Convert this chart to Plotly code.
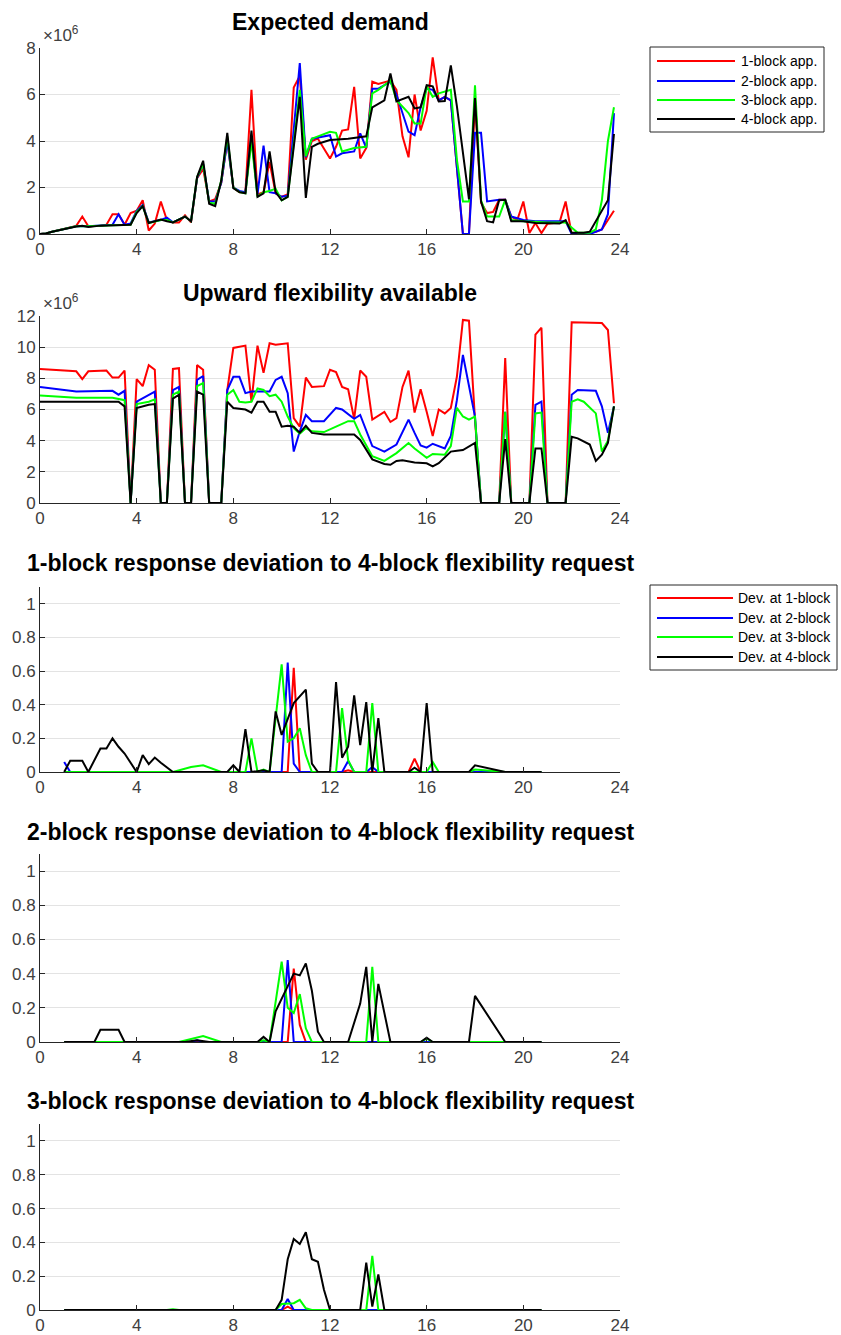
import plotly.graph_objects as go

W, H = 841, 1335

# ---------------- data ----------------
SERIES_COLORS = ["#ff0000", "#0000ff", "#00ff00", "#000000"]
LEGEND1_LABELS = ["1-block app.", "2-block app.", "3-block app.", "4-block app."]
LEGEND2_LABELS = ["Dev. at 1-block", "Dev. at 2-block", "Dev. at 3-block", "Dev. at 4-block"]
TITLES = ["Expected demand", "Upward flexibility available",
          "1-block response deviation to 4-block flexibility request",
          "2-block response deviation to 4-block flexibility request",
          "3-block response deviation to 4-block flexibility request"]
X_TICKS = [0, 4, 8, 12, 16, 20, 24]

# Panel 1: expected demand (x 1e6)
dem1_h = [0, 0.25, 0.5, 1.0, 1.5, 1.75, 2.0, 2.5, 2.75, 3.0, 3.25, 3.5, 3.75, 4.0, 4.25, 4.5, 4.75, 5.0, 5.25, 5.5, 5.75, 6.0, 6.25, 6.5, 6.75, 7.0, 7.25, 7.5, 7.75, 8.0, 8.25, 8.5, 8.75, 9.0, 9.25, 9.5, 9.75, 10.0, 10.25, 10.5, 10.75, 11.0, 11.25, 11.5, 12.0, 12.25, 12.5, 12.75, 13.0, 13.25, 13.5, 13.75, 14.0, 14.5, 14.75, 15.0, 15.25, 15.5, 15.75, 16.0, 16.25, 16.5, 16.75, 17.0, 17.5, 17.75, 18.0, 18.25, 18.5, 18.75, 19.0, 19.25, 19.5, 19.75, 20.0, 20.25, 20.5, 20.75, 21.0, 21.5, 21.75, 22.0, 22.5, 23.0, 23.25, 23.5, 23.75]
dem1_v = [0, 0.02, 0.1, 0.22, 0.35, 0.75, 0.33, 0.36, 0.4, 0.85, 0.85, 0.4, 0.9, 1.0, 1.45, 0.15, 0.45, 1.4, 0.6, 0.5, 0.5, 0.8, 0.5, 2.4, 2.8, 1.4, 1.5, 2.2, 4.0, 2.0, 1.8, 1.8, 6.2, 1.7, 1.8, 3.1, 1.75, 1.6, 1.7, 6.3, 6.8, 3.2, 4.0, 4.1, 3.25, 3.75, 4.45, 4.5, 6.33, 3.25, 3.7, 6.55, 6.45, 6.6, 6.2, 4.2, 3.3, 6.0, 4.45, 5.3, 7.6, 5.75, 5.9, 5.75, 0, 0, 5.75, 1.35, 0.9, 0.95, 1.47, 1.47, 0.75, 0.6, 1.4, 0.04, 0.47, 0.04, 0.44, 0.5, 1.4, 0.0, 0.0, 0.1, 0.2, 0.6, 1.0]
dem2_h = [0, 0.25, 0.5, 1.0, 1.5, 2.0, 2.5, 3.0, 3.25, 3.5, 3.75, 4.0, 4.25, 4.5, 5.0, 5.25, 5.5, 6.0, 6.25, 6.5, 6.75, 7.0, 7.25, 7.5, 7.75, 8.0, 8.25, 8.5, 8.75, 9.0, 9.25, 9.5, 9.75, 10.0, 10.25, 10.75, 11.0, 11.25, 12.0, 12.25, 12.5, 13.0, 13.25, 13.5, 13.75, 14.0, 14.5, 14.75, 15.25, 15.5, 15.75, 16.0, 16.25, 16.5, 16.75, 17.0, 17.5, 17.75, 18.0, 18.25, 18.5, 19.0, 19.25, 19.5, 20.0, 20.5, 21.75, 22.0, 22.75, 23.25, 23.5, 23.75]
dem2_v = [0, 0.02, 0.1, 0.22, 0.33, 0.33, 0.36, 0.4, 0.85, 0.4, 0.45, 1.0, 1.25, 0.5, 0.6, 0.7, 0.5, 0.75, 0.55, 2.4, 3.0, 1.4, 1.4, 2.2, 4.0, 2.0, 1.85, 1.8, 4.2, 1.7, 3.8, 1.8, 1.75, 1.6, 1.65, 7.35, 3.3, 4.1, 4.25, 3.33, 3.47, 3.55, 4.33, 3.7, 6.25, 6.25, 6.55, 6.0, 4.4, 4.25, 5.45, 6.25, 6.2, 5.75, 5.9, 5.75, 0, 0, 4.35, 4.35, 1.4, 1.47, 1.47, 0.75, 0.6, 0.55, 0.55, 0.0, 0.0, 0.2, 0.85, 5.2]
dem3_h = [0, 0.25, 0.5, 1.0, 1.5, 2.0, 2.5, 3.0, 3.75, 4.0, 4.25, 4.5, 5.0, 5.25, 5.5, 6.0, 6.25, 6.5, 6.75, 7.0, 7.25, 7.5, 7.75, 8.0, 8.25, 8.5, 8.75, 9.0, 9.25, 9.5, 9.75, 10.0, 10.25, 10.75, 11.0, 11.25, 12.0, 12.25, 12.5, 13.0, 13.5, 13.75, 14.0, 14.5, 14.75, 15.25, 15.5, 15.75, 16.0, 16.25, 16.5, 17.0, 17.25, 17.5, 17.75, 18.0, 18.25, 18.5, 19.0, 19.25, 19.5, 20.0, 21.0, 21.75, 22.25, 22.75, 23.0, 23.25, 23.5, 23.75]
dem3_v = [0, 0.02, 0.1, 0.22, 0.33, 0.33, 0.36, 0.38, 0.4, 0.95, 1.2, 0.47, 0.6, 0.6, 0.5, 0.75, 0.55, 2.45, 3.0, 1.35, 1.3, 2.3, 4.2, 2.0, 1.8, 1.75, 4.0, 1.6, 1.8, 1.85, 1.95, 1.45, 1.6, 6.2, 3.35, 4.1, 4.4, 4.35, 3.55, 3.7, 3.75, 6.05, 6.2, 6.6, 5.75, 5.2, 4.75, 4.75, 6.35, 5.9, 6.05, 6.2, 3.2, 1.4, 1.4, 6.4, 1.45, 0.75, 0.75, 1.47, 0.6, 0.55, 0.5, 0.5, 0.05, 0.05, 0.2, 1.45, 4.0, 5.45]
dem4_h = [0, 0.25, 0.5, 1.0, 1.5, 1.75, 2.0, 2.5, 3.0, 3.75, 4.0, 4.25, 4.5, 5.0, 5.25, 5.5, 6.0, 6.25, 6.5, 6.75, 7.0, 7.25, 7.5, 7.75, 8.0, 8.25, 8.5, 8.75, 9.0, 9.25, 9.5, 9.75, 10.0, 10.25, 10.75, 11.0, 11.25, 11.5, 12.0, 12.75, 13.5, 13.75, 14.25, 14.5, 14.75, 15.25, 15.5, 15.75, 16.0, 16.25, 16.5, 16.75, 17.0, 17.25, 17.75, 18.0, 18.25, 18.5, 18.75, 19.0, 19.25, 19.5, 20.0, 20.5, 21.5, 21.75, 22.0, 22.5, 22.75, 23.0, 23.5, 23.75]
dem4_v = [0, 0.02, 0.1, 0.22, 0.32, 0.35, 0.3, 0.36, 0.38, 0.4, 0.9, 1.2, 0.47, 0.62, 0.55, 0.5, 0.75, 0.55, 2.45, 3.15, 1.3, 1.2, 2.3, 4.35, 1.97, 1.8, 1.75, 4.45, 1.6, 1.75, 3.55, 1.8, 1.45, 1.6, 5.9, 1.55, 3.75, 3.88, 4.04, 4.1, 4.2, 5.45, 5.75, 6.9, 5.7, 5.9, 5.4, 5.45, 6.4, 6.35, 5.7, 5.72, 7.25, 5.5, 1.5, 5.85, 1.4, 0.55, 0.5, 1.45, 1.47, 0.55, 0.55, 0.47, 0.45, 0.6, 0.05, 0.05, 0.1, 0.55, 1.45, 4.3]

# Panel 2: upward flexibility available (x 1e6)
flx1_h = [0, 1.5, 1.75, 2.0, 2.75, 3.0, 3.25, 3.5, 3.75, 4.0, 4.25, 4.5, 4.75, 5.0, 5.25, 5.5, 5.75, 6.0, 6.25, 6.5, 6.75, 7.0, 7.5, 7.75, 8.0, 8.5, 8.75, 9.0, 9.25, 9.5, 9.75, 10.0, 10.25, 10.5, 10.75, 11.0, 11.25, 11.75, 12.0, 12.25, 12.5, 12.75, 13.0, 13.25, 13.5, 13.75, 14.25, 14.5, 14.75, 15.0, 15.25, 15.5, 15.75, 16.0, 16.25, 16.5, 16.75, 17.0, 17.25, 17.5, 17.75, 18.0, 18.25, 19.0, 19.25, 19.5, 20.25, 20.5, 20.75, 21.0, 21.75, 22.0, 23.25, 23.5, 23.75]
flx1_v = [8.6, 8.45, 7.95, 8.45, 8.5, 8.05, 8.05, 8.5, 0, 7.95, 7.5, 8.85, 8.55, 0, 0, 8.6, 8.65, 0, 0, 8.85, 8.55, 0, 0, 7.25, 9.95, 10.1, 6.5, 10.1, 8.35, 10.25, 10.15, 10.2, 10.25, 5.45, 4.9, 8.05, 7.45, 7.5, 8.55, 8.4, 7.45, 7.3, 5.4, 8.5, 8.1, 5.35, 5.85, 5.2, 5.45, 7.45, 8.5, 5.8, 7.3, 5.85, 4.3, 6.0, 5.75, 6.1, 8.1, 11.75, 11.7, 5.35, 0, 0, 9.3, 0, 0, 10.8, 11.25, 0, 0, 11.6, 11.55, 11.1, 6.4]
flx2_h = [0, 1.5, 3.0, 3.25, 3.5, 3.75, 4.0, 4.5, 4.75, 5.0, 5.25, 5.5, 5.75, 6.0, 6.25, 6.5, 6.75, 7.0, 7.5, 7.75, 8.0, 8.25, 8.5, 8.75, 9.25, 9.5, 9.75, 10.0, 10.25, 10.5, 10.75, 11.0, 11.25, 11.75, 12.25, 12.5, 13.0, 13.25, 13.75, 14.25, 14.75, 15.25, 15.5, 15.75, 16.0, 16.25, 16.75, 17.0, 17.25, 17.5, 18.0, 18.25, 19.0, 19.25, 19.5, 20.25, 20.5, 20.75, 21.0, 21.75, 22.0, 22.25, 23.0, 23.25, 23.5, 23.75]
flx2_v = [7.45, 7.15, 7.2, 6.95, 7.2, 0, 6.5, 6.95, 7.15, 0, 0, 7.25, 7.45, 0, 0, 7.9, 8.15, 0, 0, 7.25, 8.1, 8.1, 7.05, 7.15, 7.15, 7.15, 7.9, 8.1, 7.05, 3.3, 4.6, 5.65, 5.25, 5.25, 6.1, 6.0, 5.4, 5.65, 3.65, 3.3, 3.75, 5.35, 4.5, 3.7, 3.55, 3.8, 3.5, 4.3, 6.6, 9.5, 5.55, 0, 0, 5.85, 0, 0, 6.3, 6.5, 0, 0, 6.95, 7.25, 7.2, 6.2, 4.5, 6.2]
flx3_h = [0, 1.5, 3.0, 3.5, 3.75, 4.0, 4.5, 4.75, 5.0, 5.25, 5.5, 5.75, 6.0, 6.25, 6.5, 6.75, 7.0, 7.5, 7.75, 8.0, 8.25, 8.5, 8.75, 9.0, 9.25, 9.5, 9.75, 10.0, 10.25, 10.5, 10.75, 11.0, 11.25, 11.75, 12.25, 12.75, 13.0, 13.25, 13.75, 14.25, 14.75, 15.25, 15.5, 16.0, 16.25, 16.75, 17.0, 17.25, 17.5, 17.75, 18.0, 18.25, 19.0, 19.25, 19.5, 20.25, 20.5, 20.75, 21.0, 21.75, 22.0, 22.25, 22.5, 23.0, 23.25, 23.5, 23.75]
flx3_v = [6.9, 6.75, 6.75, 6.6, 0, 6.35, 6.5, 6.65, 0, 0, 6.95, 7.15, 0, 0, 7.5, 7.7, 0, 0, 6.95, 7.25, 6.5, 6.45, 6.5, 7.35, 7.25, 6.85, 6.95, 6.5, 5.55, 4.8, 4.45, 4.8, 4.6, 4.55, 4.9, 5.25, 5.25, 4.4, 3.0, 2.7, 3.2, 3.85, 3.5, 2.9, 3.15, 3.1, 3.65, 6.1, 5.55, 5.35, 5.55, 0, 0, 5.85, 0, 0, 5.75, 5.8, 0, 0, 6.5, 6.65, 6.5, 5.75, 3.3, 4.0, 6.2]
flx4_h = [0, 3.25, 3.5, 3.75, 4.0, 4.5, 4.75, 5.0, 5.25, 5.5, 5.75, 6.0, 6.25, 6.5, 6.75, 7.0, 7.5, 7.75, 8.0, 8.5, 8.75, 9.0, 9.25, 9.5, 9.75, 10.0, 10.25, 10.5, 10.75, 11.0, 11.25, 11.75, 13.0, 13.25, 13.75, 14.25, 14.5, 14.75, 15.0, 15.25, 15.5, 16.0, 16.25, 16.5, 17.0, 17.25, 17.5, 18.0, 18.25, 19.0, 19.25, 19.5, 20.25, 20.5, 20.75, 21.0, 21.75, 22.0, 22.25, 22.75, 23.0, 23.25, 23.5, 23.75]
flx4_v = [6.5, 6.5, 6.2, 0, 6.1, 6.3, 6.35, 0, 0, 6.7, 6.95, 0, 0, 7.15, 6.95, 0, 0, 6.5, 6.1, 6.0, 5.8, 6.5, 6.5, 5.85, 5.85, 4.9, 4.95, 4.9, 4.5, 4.95, 4.5, 4.4, 4.4, 4.05, 2.8, 2.5, 2.45, 2.7, 2.75, 2.65, 2.6, 2.55, 2.35, 2.55, 3.3, 3.35, 3.4, 3.85, 0, 0, 4.1, 0, 0, 3.5, 3.5, 0, 0, 4.25, 4.15, 3.75, 2.7, 3.1, 3.85, 6.2]

# Panel 3: 1-block response deviation
p3_1_h = [1, 10.25, 10.5, 10.75, 12.5, 12.75, 13.0, 15.25, 15.5, 15.75, 20.75]
p3_1_v = [0, 0, 0.62, 0, 0, 0.01, 0, 0, 0.08, 0, 0]
p3_2_h = [1, 1.25, 10.0, 10.25, 10.5, 10.75, 12.5, 12.75, 13.0, 13.5, 13.75, 14.0, 20.75]
p3_2_v = [0.06, 0, 0, 0.65, 0.05, 0, 0, 0.065, 0, 0, 0.03, 0, 0]
p3_3_h = [1, 5.5, 6.25, 6.75, 7.5, 8.5, 8.75, 9.0, 9.25, 9.5, 10.0, 10.25, 10.5, 10.75, 11.0, 11.25, 12.25, 12.5, 12.75, 13.0, 13.5, 13.75, 14.0, 16.0, 16.25, 16.5, 17.75, 18.0, 19.25, 20.75]
p3_3_v = [0, 0, 0.03, 0.04, 0, 0, 0.2, 0, 0.015, 0, 0.64, 0.18, 0.2, 0.26, 0.1, 0, 0, 0.38, 0.07, 0, 0, 0.41, 0, 0, 0.06, 0, 0, 0.015, 0, 0]
p3_4_h = [1, 1.25, 1.75, 2.0, 2.5, 2.75, 3.0, 3.25, 3.5, 4.0, 4.25, 4.5, 4.75, 5.0, 5.5, 7.75, 8.0, 8.25, 8.5, 8.75, 9.25, 9.5, 9.75, 10.0, 10.5, 11.0, 11.25, 11.5, 12.0, 12.25, 12.5, 12.75, 13.0, 13.25, 13.5, 13.75, 14.0, 14.25, 15.25, 15.5, 15.75, 16.0, 16.25, 17.75, 18.0, 19.25, 20.75]
p3_4_v = [0, 0.067, 0.067, 0, 0.14, 0.14, 0.2, 0.15, 0.11, 0, 0.1, 0.047, 0.086, 0.055, 0, 0, 0.04, 0, 0.255, 0, 0.01, 0, 0.36, 0.22, 0.41, 0.49, 0.05, 0, 0, 0.535, 0.085, 0.15, 0.455, 0.16, 0.415, 0, 0.32, 0, 0, 0.025, 0, 0.41, 0, 0, 0.04, 0, 0]

# Panel 4: 2-block response deviation
p4_1_h = [1, 10.25, 10.5, 10.75, 11.0, 20.75]
p4_1_v = [0, 0, 0.43, 0.1, 0, 0]
p4_2_h = [1, 6.25, 6.5, 6.75, 10.0, 10.25, 10.5, 20.75]
p4_2_v = [0, 0, 0.01, 0, 0, 0.48, 0, 0]
p4_3_h = [1, 5.75, 6.75, 7.5, 9.0, 9.25, 9.5, 10.0, 10.25, 10.5, 10.75, 11.0, 11.25, 13.5, 13.75, 14.0, 15.75, 16.0, 16.25, 20.75]
p4_3_v = [0, 0, 0.035, 0, 0, 0.01, 0, 0.47, 0.2, 0.17, 0.28, 0.08, 0, 0, 0.44, 0, 0, 0.02, 0, 0]
p4_4_h = [1, 2.25, 2.5, 3.25, 3.5, 6.0, 6.5, 7.0, 9.0, 9.25, 9.5, 9.75, 10.5, 10.75, 11.0, 11.25, 11.5, 11.75, 12.75, 13.25, 13.5, 13.75, 14.0, 14.5, 15.75, 16.0, 16.25, 17.75, 18.0, 19.25, 20.75]
p4_4_v = [0, 0, 0.072, 0.072, 0, 0, 0.01, 0, 0, 0.03, 0, 0.18, 0.4, 0.39, 0.46, 0.3, 0.06, 0, 0, 0.225, 0.44, 0, 0.34, 0, 0, 0.025, 0, 0, 0.27, 0, 0]

# Panel 5: 3-block response deviation
p5_1_h = [1, 10.0, 10.25, 10.5, 20.75]
p5_1_v = [0, 0, 0.02, 0, 0]
p5_2_h = [1, 10.0, 10.25, 10.5, 20.75]
p5_2_v = [0, 0, 0.065, 0, 0]
p5_3_h = [1, 5.25, 5.5, 5.75, 9.75, 10.0, 10.5, 10.75, 11.0, 11.25, 13.5, 13.75, 14.0, 20.75]
p5_3_v = [0, 0, 0.005, 0, 0, 0.035, 0.04, 0.06, 0.01, 0, 0, 0.32, 0, 0]
p5_4_h = [1, 9.75, 10.0, 10.25, 10.5, 10.75, 11.0, 11.25, 11.5, 11.75, 12.0, 13.25, 13.5, 13.75, 14.0, 14.25, 20.75]
p5_4_v = [0, 0, 0.06, 0.3, 0.42, 0.39, 0.46, 0.3, 0.285, 0.12, 0, 0, 0.28, 0.02, 0.21, 0, 0]

PANELS = [
    [(dem1_h, dem1_v), (dem2_h, dem2_v), (dem3_h, dem3_v), (dem4_h, dem4_v)],
    [(flx1_h, flx1_v), (flx2_h, flx2_v), (flx3_h, flx3_v), (flx4_h, flx4_v)],
    [(p3_1_h, p3_1_v), (p3_2_h, p3_2_v), (p3_3_h, p3_3_v), (p3_4_h, p3_4_v)],
    [(p4_1_h, p4_1_v), (p4_2_h, p4_2_v), (p4_3_h, p4_3_v), (p4_4_h, p4_4_v)],
    [(p5_1_h, p5_1_v), (p5_2_h, p5_2_v), (p5_3_h, p5_3_v), (p5_4_h, p5_4_v)],
]
Y_RANGES = [[0, 8], [0, 12], [0, 1.1], [0, 1.1], [0, 1.1]]
Y_TICKS = [[0, 2, 4, 6, 8], [0, 2, 4, 6, 8, 10, 12],
           [0, 0.2, 0.4, 0.6, 0.8, 1], [0, 0.2, 0.4, 0.6, 0.8, 1], [0, 0.2, 0.4, 0.6, 0.8, 1]]

# ---------------- layout (pixels) ----------------
PLOT_L, PLOT_R = 40, 620
PANEL_PX = [(48, 234), (316, 503), (587, 772), (854, 1042), (1124, 1310)]  # top, bottom
TITLE_Y = [22, 293, 563, 832, 1101]
EXP_Y = [34, 302]

FONT = "Liberation Sans, Arial, sans-serif"


def px(x):
    return x / W


def py(y):
    return 1 - y / H


fig = go.Figure()
layout = dict(width=W, height=H, margin=dict(l=0, r=0, t=0, b=0, autoexpand=False),
              paper_bgcolor="white", plot_bgcolor="white", showlegend=False)
annotations, shapes = [], []

for i, series in enumerate(PANELS):
    n = "" if i == 0 else str(i + 1)
    for k, (hx, vy) in enumerate(series):
        fig.add_trace(go.Scatter(x=hx, y=vy, mode="lines", xaxis="x" + n, yaxis="y" + n,
                                 line=dict(color=SERIES_COLORS[k], width=2), hoverinfo="skip"))
    top, bot = PANEL_PX[i]
    layout["xaxis" + n] = dict(domain=[px(PLOT_L), px(PLOT_R)], anchor="y" + n, range=[0, 24],
                               tickvals=X_TICKS, ticks="inside", ticklen=5, tickcolor="#262626",
                               showline=True, linecolor="#262626", linewidth=1, showgrid=False,
                               zeroline=False, automargin=False,
                               tickfont=dict(family=FONT, size=17, color="#404040"))
    layout["yaxis" + n] = dict(domain=[py(bot), py(top)], anchor="x" + n, range=Y_RANGES[i],
                               tickvals=Y_TICKS[i], ticks="inside", ticklen=5, tickcolor="#262626",
                               showline=True, linecolor="#262626", linewidth=1, showgrid=True,
                               gridcolor="#e3e3e3", gridwidth=1, zeroline=False, automargin=False,
                               tickfont=dict(family=FONT, size=17, color="#404040"))
    annotations.append(dict(text="<b>" + TITLES[i] + "</b>", x=px(330), y=py(TITLE_Y[i]),
                            xref="paper", yref="paper", xanchor="center", yanchor="middle",
                            showarrow=False, font=dict(family=FONT, size=23, color="#000000")))

for y in EXP_Y:
    annotations.append(dict(text="×10<sup>6</sup>", x=px(41), y=py(y), xref="paper", yref="paper",
                            xanchor="left", yanchor="middle", showarrow=False,
                            font=dict(family=FONT, size=17, color="#404040")))


def add_legend(labels, box, rows, line_x, text_x):
    x0, y0, x1, y1 = box
    shapes.append(dict(type="rect", xref="paper", yref="paper", x0=px(x0), x1=px(x1),
                       y0=py(y1), y1=py(y0), line=dict(color="#262626", width=1),
                       fillcolor="white", layer="above"))
    for k, lab in enumerate(labels):
        shapes.append(dict(type="line", xref="paper", yref="paper", x0=px(line_x[0]), x1=px(line_x[1]),
                           y0=py(rows[k]), y1=py(rows[k]), line=dict(color=SERIES_COLORS[k], width=2)))
        annotations.append(dict(text=lab, x=px(text_x), y=py(rows[k]), xref="paper", yref="paper",
                                xanchor="left", yanchor="middle", showarrow=False,
                                font=dict(family=FONT, size=14, color="#000000")))


add_legend(LEGEND1_LABELS, (650, 47, 824, 132), [61, 81, 100, 119], (657, 735), 739)
add_legend(LEGEND2_LABELS, (650, 585, 837, 670), [598, 618, 637, 657], (657, 733), 736)

layout["annotations"] = annotations
layout["shapes"] = shapes
fig.update_layout(**layout)
fig.write_html("out.html")
